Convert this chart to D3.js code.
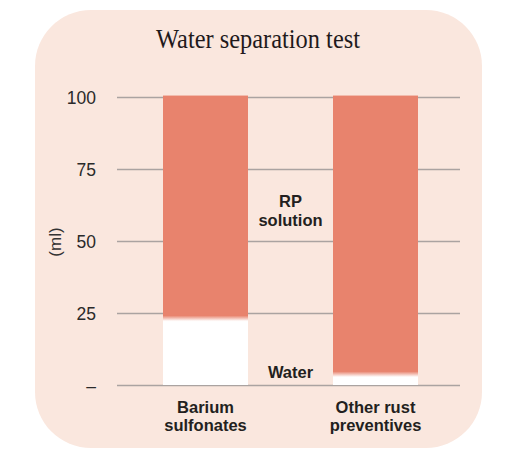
<!DOCTYPE html>
<html>
<head>
<meta charset="utf-8">
<script src="https://cdn.jsdelivr.net/npm/d3@7"></script>
<style>
html,body{margin:0;padding:0;background:#fff;}
svg{display:block;}
</style>
</head>
<body>
<svg id="chart" width="528" height="456"></svg>
<script>
const title = "Water separation test";
const categories = [["Barium", "sulfonates"], ["Other rust", "preventives"]];
const waterValues = [22.2, 2.8];
const rpValues = [78.3, 97.7];
const tickValues = [0, 25, 50, 75, 100];
const tickLabels = ["–", "25", "50", "75", "100"];
const yLabel = "(ml)";

const svg = d3.select("#chart");

// panel
svg.append("rect").attr("x", 35).attr("y", 10).attr("width", 447).attr("height", 438)
  .attr("rx", 56).attr("ry", 56).attr("fill", "#FAE7DE");

svg.append("text").attr("x", 258).attr("y", 48).attr("text-anchor", "middle")
  .attr("font-family", "Liberation Serif, DejaVu Serif, serif").attr("font-size", 27)
  .attr("textLength", 204).attr("lengthAdjust", "spacingAndGlyphs")
  .attr("fill", "#1f1a1c").text(title);

const y = d3.scaleLinear().domain([0, 100]).range([385, 97]);
const x = d3.scaleBand().domain(d3.range(categories.length)).range([78, 503]).paddingInner(0.5).paddingOuter(0.5);

// gridlines
const yAxis = d3.axisLeft(y).tickValues(tickValues).tickSize(-343).tickFormat((d, i) => tickLabels[i]).tickPadding(21);
const gA = svg.append("g").attr("transform", "translate(117,0)").call(yAxis);
gA.select(".domain").remove();
gA.selectAll(".tick line").attr("stroke", "#aaa3a1").attr("stroke-width", 1.3);
gA.selectAll(".tick text").attr("font-family", "Liberation Sans, Arial, sans-serif").attr("font-size", 17.5)
  .attr("fill", "#2a2a2a").attr("dy", "0.35em");

svg.append("text").attr("transform", "translate(61,242) rotate(-90)").attr("text-anchor", "middle")
  .attr("font-family", "Liberation Sans, Arial, sans-serif").attr("font-size", 17).attr("fill", "#333")
  .text(yLabel);

const defs = svg.append("defs");
const salmon = "#E8836D";
const fade = 5.5;

categories.forEach((c, i) => {
  const bx = x(i), bw = x.bandwidth();
  const yW = y(waterValues[i]);
  const yTop = y(waterValues[i] + rpValues[i]);
  svg.append("rect").attr("x", bx).attr("y", yW).attr("width", bw).attr("height", y(0) - yW).attr("fill", "#fff");
  const gid = "g" + i;
  const grad = defs.append("linearGradient").attr("id", gid).attr("gradientUnits", "userSpaceOnUse")
    .attr("x1", 0).attr("x2", 0).attr("y1", yTop).attr("y2", yW);
  grad.append("stop").attr("offset", 0).attr("stop-color", salmon);
  grad.append("stop").attr("offset", (yW - fade - yTop) / (yW - yTop)).attr("stop-color", salmon);
  grad.append("stop").attr("offset", 1).attr("stop-color", "#fff");
  svg.append("rect").attr("x", bx).attr("y", yTop).attr("width", bw).attr("height", yW - yTop).attr("fill", `url(#${gid})`);

  const t = svg.append("text").attr("x", bx + bw / 2).attr("y", 413).attr("text-anchor", "middle")
    .attr("font-family", "Liberation Sans, Arial, sans-serif").attr("font-size", 16.5).attr("font-weight", "bold")
    .attr("fill", "#231f20");
  c.forEach((line, j) => t.append("tspan").attr("x", bx + bw / 2).attr("dy", j === 0 ? 0 : 18).text(line));
});

const mid = (x(0) + x.bandwidth() + x(1)) / 2;
const lab = svg.append("text").attr("text-anchor", "middle")
  .attr("font-family", "Liberation Sans, Arial, sans-serif").attr("font-size", 16.5).attr("font-weight", "bold")
  .attr("fill", "#231f20");
lab.append("tspan").attr("x", mid).attr("y", 207).text("RP");
lab.append("tspan").attr("x", mid).attr("y", 226).text("solution");
svg.append("text").attr("x", mid).attr("y", 378).attr("text-anchor", "middle")
  .attr("font-family", "Liberation Sans, Arial, sans-serif").attr("font-size", 16.5).attr("font-weight", "bold")
  .attr("fill", "#231f20").text("Water");
</script>
</body>
</html>
